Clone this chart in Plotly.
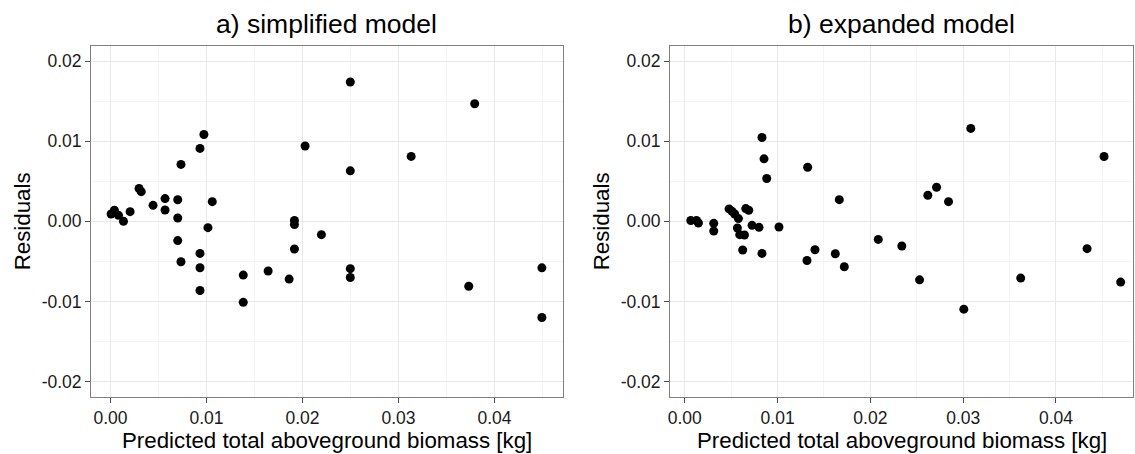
import plotly.graph_objects as go

# a) simplified model
x_simple = [0.00006, 0.0004, 0.00083, 0.00135, 0.00204, 0.00297, 0.0032, 0.00443,
            0.00568, 0.00568, 0.007, 0.007, 0.007, 0.00734, 0.00734, 0.00932,
            0.00932, 0.00932, 0.00932, 0.00973, 0.01015, 0.0106, 0.01383, 0.01383,
            0.01642, 0.01861, 0.01916, 0.01916, 0.01916, 0.02027, 0.02197, 0.02498,
            0.02498, 0.02498, 0.02498, 0.03132, 0.03732, 0.03794, 0.04494, 0.04494]
y_simple = [0.00092, 0.00138, 0.00075, 0.0, 0.00121, 0.0041, 0.0037, 0.002,
            0.00284, 0.00142, 0.0027, 0.00042, -0.0024, 0.0071, -0.00504, 0.0091,
            -0.004, -0.00579, -0.00862, 0.01084, -0.00079, 0.00246, -0.0067, -0.0101,
            -0.0062, -0.0072, 0.0001, -0.0004, -0.00345, 0.0094, -0.00166, 0.01738,
            0.0063, -0.0059, -0.007, 0.0081, -0.0081, 0.01467, -0.0058, -0.012]

# b) expanded model
x_expanded = [0.00065, 0.00126, 0.00147, 0.00312, 0.00312, 0.00477, 0.00509, 0.00538,
              0.00578, 0.00567, 0.00592, 0.00643, 0.00657, 0.00689, 0.00624, 0.00725,
              0.008, 0.00832, 0.00832, 0.00854, 0.00883, 0.01015, 0.01317, 0.01324,
              0.01403, 0.01622, 0.01665, 0.01719, 0.02085, 0.02339, 0.0253, 0.02619,
              0.02713, 0.02842, 0.03007, 0.03082, 0.0362, 0.04335, 0.04518, 0.04697]
y_expanded = [0.0001, 0.0001, -0.0002, -0.00025, -0.0012, 0.00155, 0.00125, 0.00092,
              0.00034, -0.00083, -0.00166, -0.0017, 0.00159, 0.00138, -0.00358, -0.0005,
              -0.00075, -0.004, 0.01046, 0.0078, 0.00534, -0.0007, -0.00488, 0.00675,
              -0.00354, -0.00404, 0.00271, -0.00566, -0.00225, -0.00308, -0.0073, 0.00325,
              0.00425, 0.00246, -0.01095, 0.01159, -0.00708, -0.00341, 0.00809, -0.00758]

titles = ["a) simplified model", "b) expanded model"]
x_title = "Predicted total aboveground biomass [kg]"
y_title = "Residuals"
x_ticks = [0.0, 0.01, 0.02, 0.03, 0.04]
x_ticklabels = ["0.00", "0.01", "0.02", "0.03", "0.04"]
y_ticks = [-0.02, -0.01, 0.0, 0.01, 0.02]
y_ticklabels = ["-0.02", "-0.01", "0.00", "0.01", "0.02"]

W, H = 1135, 454
FONT = "Liberation Sans, Arial, sans-serif"

# panel pixel boxes (left, right)
panels = [(89.3, 561.7), (669.3, 1133.0)]
top_px, bot_px = 46.0, 396.7
x_ranges = [[-0.00202, 0.04711], [-0.00158, 0.0483]]
y_range = [-0.021875, 0.021875]

fig = go.Figure()
fig.add_trace(go.Scatter(x=x_simple, y=y_simple, mode="markers",
                         marker=dict(color="black", size=9), xaxis="x", yaxis="y",
                         showlegend=False))
fig.add_trace(go.Scatter(x=x_expanded, y=y_expanded, mode="markers",
                         marker=dict(color="black", size=9), xaxis="x2", yaxis="y2",
                         showlegend=False))

axis_common = dict(
    showline=True, linecolor="#808080", linewidth=1.2, mirror=True,
    ticks="outside", ticklen=5, tickcolor="#4d4d4d", tickwidth=1.2,
    showgrid=True, gridcolor="#e8e8e8", gridwidth=1.2,
    zeroline=False,
    tickfont=dict(family=FONT, size=17.5, color="#1a1a1a"),
)
minor = dict(showgrid=True, gridcolor="#f4f4f4", gridwidth=1.2, dtick=0.005, ticks="")

layout = dict(
    width=W, height=H, margin=dict(l=0, r=0, t=0, b=0),
    paper_bgcolor="white", plot_bgcolor="white",
    showlegend=False, annotations=[],
)
ydom = [1 - bot_px / H, 1 - top_px / H]
for i, (l, r) in enumerate(panels):
    sfx = "" if i == 0 else str(i + 1)
    layout["xaxis" + sfx] = dict(axis_common, domain=[l / W, r / W], range=x_ranges[i],
                                 tickvals=x_ticks, ticktext=x_ticklabels,
                                 anchor="y" + sfx, minor=minor)
    layout["yaxis" + sfx] = dict(axis_common, domain=ydom, range=y_range,
                                 tickvals=y_ticks, ticktext=y_ticklabels,
                                 anchor="x" + sfx, minor=minor)
    cx = (l + r) / 2 / W
    layout["annotations"].append(dict(
        text=titles[i], x=cx, y=1 - 24 / H, xref="paper", yref="paper",
        xanchor="center", yanchor="middle", showarrow=False,
        font=dict(family=FONT, size=26.5, color="black")))
    layout["annotations"].append(dict(
        text=x_title, x=cx, y=1 - 440 / H, xref="paper", yref="paper",
        xanchor="center", yanchor="middle", showarrow=False,
        font=dict(family=FONT, size=22.3, color="black")))
    layout["annotations"].append(dict(
        text=y_title, x=(l - 69.3) / W, y=1 - 221.4 / H, xref="paper", yref="paper",
        xanchor="center", yanchor="middle", showarrow=False, textangle=-90,
        font=dict(family=FONT, size=22.3, color="black")))

fig.update_layout(**layout)
fig.write_html("out.html", config={"displayModeBar": False},
               post_script="document.body.style.margin='0';")
